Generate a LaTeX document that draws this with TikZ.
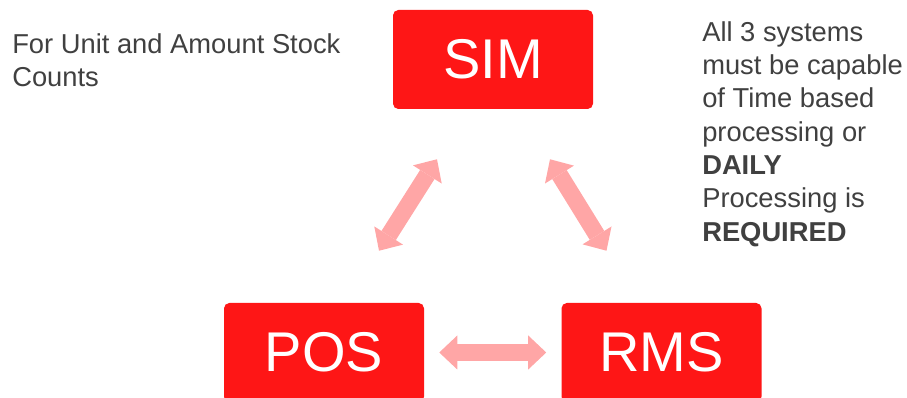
\documentclass[tikz,border=0pt]{standalone}
\usepackage{fontspec}
\setmainfont{Liberation Sans}
\usepackage{tikz}
\usetikzlibrary{arrows.meta}
\definecolor{sysred}{RGB}{254,22,22}
\definecolor{syspink}{RGB}{255,166,166}
\definecolor{sysink}{RGB}{64,64,64}
\tikzset{
  syscard/.style={fill=sysred, rounded corners=4pt, inner sep=0pt,
    minimum width=150pt, minimum height=74.25pt, text=white,
    font=\fontsize{42}{46}\selectfont},
  syslink/.style={syspink, line width=12.75pt,
    {Triangle[length=13.5pt,width=25.5pt,line width=0pt]}-{Triangle[length=13.5pt,width=25.5pt,line width=0pt]}},
  sysnote/.style={inner sep=0pt, align=left, text=sysink,
    font=\fontsize{20.5}{25}\selectfont},
}
\begin{document}
\begin{tikzpicture}[x=0.75pt,y=-0.75pt]
  \useasboundingbox (0,0) rectangle (907,398);
  \clip (0,0) rectangle (907,398);
  \node[syscard] (sim) at (493,59.5) {SIM};
  \node[syscard] (pos) at (324,352.5) {POS};
  \node[syscard] (rms) at (661.5,352.5) {RMS};
  \node[sysnote, anchor=north west] (scope) at (12,33)
    {For Unit and Amount Stock\\Counts};
  \node[sysnote, anchor=north west] (rule) at (702,21)
    {All 3 systems\\must be capable\\of Time based\\processing or\\\textbf{DAILY}\\Processing is\\\textbf{REQUIRED}};
  % links between the three systems
  \draw[syslink] ([shift={(-56,50)}]sim.south) -- ([shift={(55,-52)}]pos.north);
  \draw[syslink] ([shift={(57,50)}]sim.south) -- ([shift={(-55,-52)}]rms.north);
  \draw[syslink] ([xshift=11.25pt]pos.east) -- ([xshift=-11.25pt]rms.west);
\end{tikzpicture}
\end{document}
